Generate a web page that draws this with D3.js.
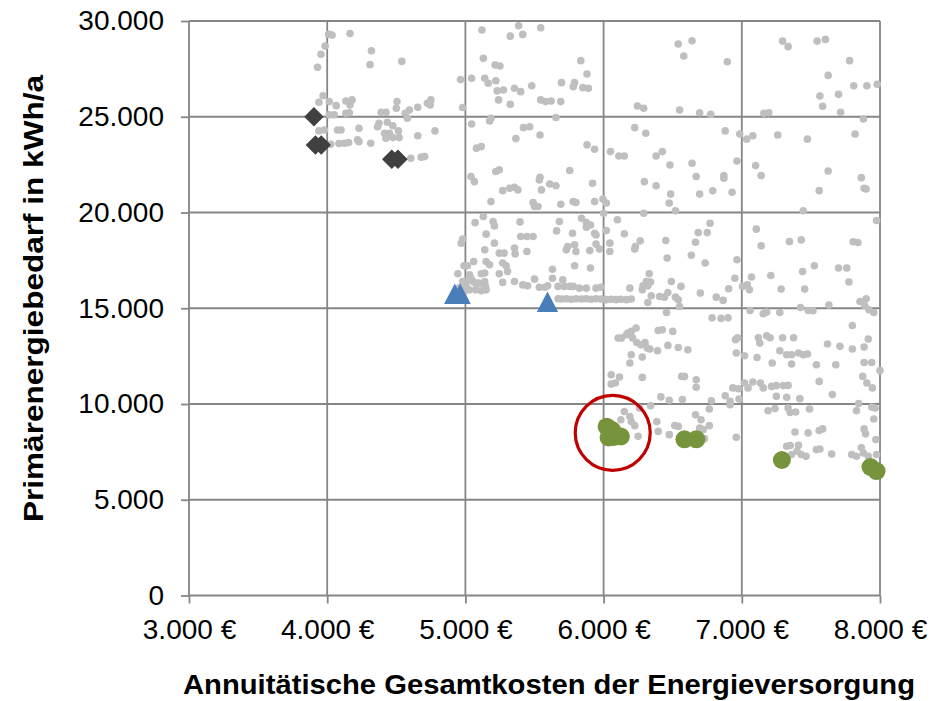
<!DOCTYPE html>
<html><head><meta charset="utf-8">
<script src="https://cdn.jsdelivr.net/npm/d3@7"></script>
<style>
body{margin:0;background:#fff}
svg{display:block}
text{font-family:"Liberation Sans",Arial,sans-serif;fill:#000}
</style>
</head><body>
<svg id="chart" width="948" height="701"></svg>
<script>
// ---- data ----
const xTicks = [3000, 4000, 5000, 6000, 7000, 8000];
const yTicks = [0, 5000, 10000, 15000, 20000, 25000, 30000];
const xTitle = "Annuitätische Gesamtkosten der Energieversorgung";
const yTitle = "Primärenergiebedarf in kWh/a";

// all other variants [annual cost €, primary energy kWh/a]
const otherVariants = [
[4010,29300],[4035,29270],[4165,29350],[3985,28690],[3955,28260],[3930,27580],[4320,28450],[4310,27720],[4540,27890],[4965,26940],[5045,27010],[5120,29530],[5130,28050],[5215,27700],[5140,27010],[5165,26750],[5220,26880],[5230,26350],[3970,26100],[3940,25760],[4015,25790],[4065,25580],[4135,25820],[4180,25880],[4165,25620],[4015,25100],[4050,25100],[4135,25180],[4160,25210],[4390,25230],[4425,25230],[4505,25790],[4500,25440],[4565,25180],[4580,24920],[4595,25350],[4655,25490],[4725,25700],[4750,25880],[4745,25620],[4980,25480],[5045,24620],[5185,24920],[5175,24780],[4375,24660],[4435,24710],[4475,24530],[4365,24480],[4230,24400],[4075,24310],[4100,24310],[3940,24260],[3980,24310],[4415,24140],[4450,24140],[4515,24260],[4425,23880],[4475,23910],[4520,23910],[4655,24010],[4780,24260],[4220,23790],[4230,23700],[4315,23620],[4025,23560],[4085,23600],[4125,23620],[4155,23650],[4605,22830],[4680,22890],[4705,22920],[5080,23360],[5115,23440],[5040,21880],[5065,21610],[5220,22140],
[5385,29750],[5325,29210],[5415,29300],[5545,29650],[5250,27650],[5835,27930],[5880,27230],[5275,26400],[5355,26490],[5400,26310],[5480,26620],[5695,26780],[5790,26780],[5780,26570],[5850,26520],[5890,26490],[5240,25880],[5325,25650],[5545,25880],[5580,25790],[5620,25820],[5690,25790],[6245,25560],[5655,24960],[5420,24430],[5465,24480],[5540,24050],[5365,23860],[5880,23530],[5935,23300],[6050,23180],[6110,22950],[6150,22950],[6225,24430],[5245,22230],[5755,22190],[5540,21840],[5610,21490],[5655,21400],[5920,21530],[5270,21140],[5320,21270],[5355,21320],[5380,21180],[5550,21180],
[6540,28800],[6640,28970],[6580,28170],[6895,27870],[7295,28950],[7335,28660],[7545,28950],[7565,26080],[6290,25440],[6550,25350],[6695,25210],[6775,25130],[7160,25180],[7195,25210],[6305,24140],[6880,24260],[6985,24100],[7035,23830],[7080,24010],[7260,24050],[7475,23830],[6380,22950],[6425,23180],[6480,22480],[6640,22570],[6965,22690],[7100,22450],[7140,21930],[6670,21880],[6870,21930],[6870,21790],[6295,21610],[6380,21400],[6485,20960],[6695,20960],[6790,21130],[6930,21060],[7560,21140],
[7605,29040],[7780,27930],[7625,27160],[7810,26620],[7905,26620],[7980,26700],[7700,26170],[7585,25550],[7715,25230],[7880,24880],[7820,24100],[7625,22170],[7865,21820],[7885,21270],[7900,21230],
[5535,21700],[5185,20570],[5490,20520],[5500,20310],[5525,20310],[5690,20430],[5780,20570],[5800,20520],[5935,20570],[5995,20700],[6020,20490],[6000,19960],[5070,19470],[5130,19790],[5200,19530],[5210,19300],[5395,19510],[5150,18870],[4980,18610],[4970,18400],[5210,18400],[5400,18750],[5445,18750],[5490,18750],[5680,19530],[5660,19040],[5775,18920],[5840,19700],[5875,19470],[5905,19350],[5875,19230],[5935,18920],[5945,18830],[6020,19060],[6100,19620],[6150,18890],[5140,18050],[5245,17880],[5280,17880],[5355,18140],[5360,17840],[5445,17960],[5730,18050],[5740,18220],[5790,18310],[5800,17960],[5900,18010],[5945,18350],[5970,18090],[6045,18400],[6045,17960],[6225,18090],[5060,17440],[4990,17220],[5015,17220],[5150,17440],[5175,17270],[5270,17360],[5295,17220],[5630,17040],[5790,17220],[5905,17100],[4945,16800],[5030,16750],[5040,16570],[5115,16800],[5140,16840],[5245,16800],[5305,16920],[4980,16400],[5005,16400],[5055,16400],[5075,16310],[5100,16310],[5140,16400],[5145,16140],[5270,16350],[5355,16400],[5415,16220],[5450,16170],[5500,16520],[5535,16100],[5575,16100],[5595,16170],[5630,16570],[5670,16140],[5705,16490],[5715,16140],[5755,16140],[5780,16140],[5825,16050],[5875,16050],[5945,16050],[5980,16100],[6190,16050],
[5670,15500],[5695,15480],[5730,15500],[5765,15470],[5800,15500],[5840,15480],[5875,15500],[5910,15470],[5945,15500],[5980,15480],[6020,15450],[6055,15470],[6090,15450],[6125,15470],[6165,15450],[6200,15480],
[5005,16140],[5030,15960],[5075,15960],[5115,15910],[5150,15960],[4955,16070],[4990,15860],
[6235,13970],[6200,13790],[6165,13620],[6130,13440],[6105,13440],
[6475,20490],[6520,20090],[6290,19960],[7445,20090],[6265,18520],[6230,18220],[6450,18540],[6460,17620],[6770,19440],[6685,18950],[6750,18950],[6665,18450],[6635,17770],[6735,17360],[6965,17530],[7105,19130],[7140,18260],[7345,18480],[7430,18570],[7525,17220],[7440,16920],[7210,16710],[7070,16630],[6950,16570],[6330,16800],[6340,16370],[6310,16400],[6285,16170],[6280,15960],[6320,16170],[6490,16400],[6560,16140],[6345,15650],[6320,15300],[6405,15610],[6440,15580],[6465,15820],[6520,15580],[6540,15440],[6550,15090],[6700,15790],[6815,15580],[6865,15410],[6905,16020],[7005,16140],[7040,16220],[7055,15960],[7285,16000],[7455,16000],[6455,14780],[6785,14500],[6850,14470],[6900,14500],[7060,14880],[7155,14710],[7180,14800],[7275,14780],[7425,15040],[7480,14880],[7515,14870],[6395,13840],[6425,13880],[6500,13790],[6970,13460],[7120,13460],[7180,13560],[7205,13460],[7295,13460],[7375,13460],
[7975,19580],[7805,18470],[7840,18430],[7700,17100],[7760,17100],[7775,16370],[7855,15350],[7900,15490],[7890,15130],[7920,14920],[7955,14780],[7630,15170],[7800,14100],[7915,13390],
[6175,13700],[6210,13440],[6240,13210],[6270,13090],[6300,13210],[6315,12920],[6335,12870],[6465,13060],[6540,12950],[6610,12830],[6390,12780],[6200,12570],[6280,12450],[6190,12140],[6055,11530],[6115,11410],[6055,11040],[6085,11100],[6280,11390],[6565,11440],[6585,11440],[6670,11270],[6670,10870],[6415,10370],[6475,10190],[6570,10230],[6260,9790],[6340,9910],[6780,10170],[6765,9740],[6880,10430],[6915,9960],[6935,10840],[6150,9610],[6190,9350],[6125,9180],[6200,9090],[6225,8870],[6250,8310],[6385,9090],[6395,8570],[6475,8400],[6515,8880],[6540,8830],[6665,9440],[6705,9180],[6695,8750],[6720,8660],[6765,8870],[6730,8190],[6960,8260],[6955,13360],[6960,12660],
[7130,13180],[7020,12520],[7110,12430],[7275,12780],[7325,12570],[7360,12570],[7410,12660],[7445,12570],[7475,12610],[7620,13130],[7710,13010],[7800,12870],[7885,12970],[7220,12140],[7360,12090],[7540,12050],[7680,12050],[7885,12170],[7940,12170],[8000,11750],[7560,11180],[7655,10490],[6975,10800],[7020,11100],[7045,10840],[7080,11150],[7135,11100],[7155,10840],[7215,10920],[7250,10960],[7300,10960],[7335,10970],[6915,10140],[6980,10260],[7250,10400],[7325,10350],[7420,10280],[7875,11440],[7905,11100],[7945,10840],[7190,9650],[7240,9760],[7335,9790],[7350,9560],[7390,9580],[7490,9740],[7845,10020],[7830,9650],[7940,9840],[7965,9790],[7955,9220],[7385,8540],[7480,8490],[7560,8620],[7585,8700],[7885,8700],[7895,8440],[7970,8140],[7325,7790],[7350,7830],[7410,7840],[7400,7530],[7430,7360],[7465,7270],[7360,7360],[7540,7620],[7565,7650],[7650,7390],[7795,7360],[7830,7270],[7865,7710],[7880,7440],[7915,7270],[7975,7360]
];

// highlighted groups
const diamondVariants = [[3904,25000],[3915,23525],[3957,23525],[4467,22785],[4512,22785]];
const triangleVariants = [[4923,15760],[4962,15760],[5594,15340]];
const circleVariants = [[6022,8815],[6061,8640],[6036,8251],[6075,8277],[6125,8303],[6585,8157],[6671,8157],[7290,7076],[7931,6710],[7975,6500]];
const markedVariant = [6066, 8496];

// ---- scales ----
const svg = d3.select("#chart");
const x = d3.scaleLinear().domain([3000, 8000]).range([189, 880]);
const y = d3.scaleLinear().domain([0, 30000]).range([595.5, 21]);
const de = d3.formatLocale({decimal: ",", thousands: ".", grouping: [3], currency: ["", " €"]});
const fNum = de.format(",");

const gridColor = "#868686";

// gridlines
svg.append("g").selectAll("line").data(yTicks).join("line")
  .attr("x1", x(3000)).attr("x2", x(8000))
  .attr("y1", d => y(d)).attr("y2", d => y(d))
  .attr("stroke", gridColor).attr("stroke-width", 1.8);
svg.append("g").selectAll("line").data(xTicks).join("line")
  .attr("y1", y(0)).attr("y2", y(30000))
  .attr("x1", d => x(d)).attr("x2", d => x(d))
  .attr("stroke", gridColor).attr("stroke-width", 1.8);

// axes
const yAxis = svg.append("g").attr("transform", `translate(${x(3000)},0)`)
  .call(d3.axisLeft(y).tickValues(yTicks).tickSize(8).tickPadding(17).tickFormat(d => fNum(d)));
const xAxis = svg.append("g").attr("transform", `translate(0,${y(0)})`)
  .call(d3.axisBottom(x).tickValues(xTicks).tickSize(8).tickPadding(16).tickFormat(d => fNum(d) + " €"));
[yAxis, xAxis].forEach(g => {
  g.select(".domain").remove();
  g.selectAll(".tick line").attr("stroke", gridColor).attr("stroke-width", 1.8);
  g.selectAll(".tick text").attr("font-size", 28).attr("fill", "#000")
    .style("font-family", '"Liberation Sans", Arial, sans-serif');
});

// points
svg.append("g").selectAll("circle").data(otherVariants).join("circle")
  .attr("cx", d => x(d[0])).attr("cy", d => y(d[1])).attr("r", 3.8)
  .attr("fill", "#bfbfbf");

const diamondSym = {draw(ctx, size){ const r = Math.sqrt(size) / 2; ctx.moveTo(0,-r); ctx.lineTo(r,0); ctx.lineTo(0,r); ctx.lineTo(-r,0); ctx.closePath(); }};
const triSym = {draw(ctx, size){ const w = Math.sqrt(size); ctx.moveTo(0,-w/2); ctx.lineTo(w*0.52,w/2); ctx.lineTo(-w*0.52,w/2); ctx.closePath(); }};

svg.append("g").selectAll("path").data(diamondVariants).join("path")
  .attr("d", d3.symbol().type(diamondSym).size(19.5*19.5))
  .attr("transform", d => `translate(${x(d[0])},${y(d[1])})`)
  .attr("fill", "#404040");
svg.append("g").selectAll("path").data(triangleVariants).join("path")
  .attr("d", d3.symbol().type(triSym).size(20.5*20.5))
  .attr("transform", d => `translate(${x(d[0])},${y(d[1])})`)
  .attr("fill", "#4a7ebb");
svg.append("g").selectAll("circle").data(circleVariants).join("circle")
  .attr("cx", d => x(d[0])).attr("cy", d => y(d[1])).attr("r", 9)
  .attr("fill", "#77933c");

// highlight ring
svg.append("circle").attr("cx", x(markedVariant[0])).attr("cy", y(markedVariant[1]))
  .attr("r", 37.5).attr("fill", "none").attr("stroke", "#c00000").attr("stroke-width", 3.2);

// titles
svg.append("text").attr("x", 549).attr("y", 694).attr("text-anchor", "middle")
  .attr("font-size", 27).attr("font-weight", "bold")
  .attr("textLength", 732).attr("lengthAdjust", "spacingAndGlyphs").text(xTitle);
svg.append("text").attr("transform", "translate(43,298.5) rotate(-90)").attr("text-anchor", "middle")
  .attr("font-size", 28).attr("font-weight", "bold")
  .attr("textLength", 447).attr("lengthAdjust", "spacingAndGlyphs").text(yTitle);
</script>
</body></html>
